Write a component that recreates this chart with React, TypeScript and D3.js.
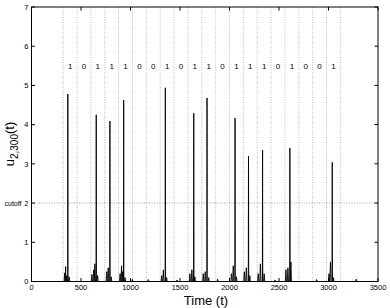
import React from "react";
import * as d3 from "d3";

// bit sequence written above the trace, one per time slot
const bits = [1, 0, 1, 1, 1, 0, 0, 1, 0, 1, 1, 0, 1, 1, 1, 0, 1, 0, 0, 1];
// slot boundaries (dotted verticals)
const slotEdges = [
  320, 460, 600, 740, 880, 1020, 1160, 1300, 1440, 1580, 1720, 1860, 2000,
  2140, 2280, 2420, 2560, 2700, 2840, 2980, 3120,
];
// tall spikes
const peakTimes = [367, 654, 792, 931, 1352, 1639, 1773, 2056, 2192, 2334, 2610, 3038];
const peakHeights = [4.78, 4.25, 4.09, 4.63, 4.94, 4.29, 4.68, 4.17, 3.2, 3.35, 3.4, 3.04];
// small bumps along the baseline
const bumpTimes = [
  335, 345, 352, 380, 610, 628, 640, 668, 760, 775, 805, 895, 910, 920, 945,
  1020, 1180, 1315, 1332, 1365, 1470, 1600, 1620, 1650, 1735, 1755, 1790, 1880,
  2020, 2038, 2070, 2150, 2170, 2205, 2290, 2312, 2350, 2460, 2570, 2590, 2620,
  2880, 3005, 3020, 3050, 3280,
];
const bumpHeights = [
  0.22, 0.38, 0.15, 0.12, 0.18, 0.3, 0.45, 0.15, 0.25, 0.35, 0.12, 0.2, 0.4, 0.25, 0.1,
  0.06, 0.05, 0.15, 0.3, 0.1, 0.04, 0.2, 0.3, 0.12, 0.2, 0.25, 0.1, 0.06,
  0.2, 0.4, 0.12, 0.25, 0.35, 0.15, 0.2, 0.45, 0.2, 0.04, 0.3, 0.35, 0.5,
  0.05, 0.2, 0.5, 0.1, 0.06,
];
const xTicks = [0, 500, 1000, 1500, 2000, 2500, 3000, 3500];
const yTicks = [0, 1, 2, 3, 4, 5, 6, 7];
const cutoff = 2;
const bitLevel = 5.5;

const W = 390;
const H = 308;
const margin = { left: 31.5, right: 12, top: 7, bottom: 26.5 };
const font = "'Liberation Sans', Arial, Helvetica, sans-serif";

export default function App() {
  const x = d3.scaleLinear().domain([0, 3500]).range([margin.left, W - margin.right]);
  const y = d3.scaleLinear().domain([0, 7]).range([H - margin.bottom, margin.top]);

  // assemble trace points
  const pts: [number, number][] = [[0, 0]];
  peakTimes.forEach((t, i) => {
    pts.push([t - 2, 0], [t, peakHeights[i]], [t + 2, 0]);
  });
  bumpTimes.forEach((t, i) => {
    pts.push([t - 6, 0], [t, bumpHeights[i]], [t + 6, 0]);
  });
  pts.push([3500, 0]);
  pts.sort((a, b) => a[0] - b[0]);

  const line = d3
    .line<[number, number]>()
    .x((d) => x(d[0]))
    .y((d) => y(d[1]));

  const x0 = x(0);
  const x1 = x(3500);
  const y0 = y(0);
  const y1 = y(7);

  return (
    <svg
      width={W}
      height={H}
      style={{ position: "absolute", left: 0, top: 0, background: "#fff" }}
    >
      {/* slot dividers */}
      {slotEdges.map((t) => (
        <line
          key={t}
          x1={x(t)}
          x2={x(t)}
          y1={y1}
          y2={y0}
          stroke="#a8a8a8"
          strokeWidth={0.8}
          strokeDasharray="1,1.5"
        />
      ))}
      {/* cutoff line */}
      <line
        x1={x0}
        x2={x1}
        y1={y(cutoff)}
        y2={y(cutoff)}
        stroke="#8a8a8a"
        strokeWidth={0.8}
        strokeDasharray="1,1.5"
      />
      <text
        x={21.5}
        y={y(cutoff) + 2.5}
        fontSize={7}
        fontFamily={font}
        textAnchor="end"
        fill="#000"
      >
        cutoff
      </text>

      {/* bits */}
      {bits.map((b, i) => (
        <text
          key={i}
          x={x((slotEdges[i] + slotEdges[i + 1]) / 2)}
          y={y(bitLevel) + 3}
          fontSize={8}
          fontFamily={font}
          textAnchor="middle"
        >
          {b}
        </text>
      ))}

      {/* trace */}
      <path d={line(pts) || ""} fill="none" stroke="#000" strokeWidth={0.9} />

      {/* box */}
      <rect x={x0} y={y1} width={x1 - x0} height={y0 - y1} fill="none" stroke="#000" strokeWidth={1} />

      {/* x ticks */}
      {xTicks.map((t) => (
        <g key={t}>
          <line x1={x(t)} x2={x(t)} y1={y0} y2={y0 - 3.5} stroke="#000" />
          <line x1={x(t)} x2={x(t)} y1={y1} y2={y1 + 3.5} stroke="#000" />
          <text
            x={x(t)}
            y={y0 + 8.5}
            fontSize={7.5}
            fontFamily={font}
            textAnchor="middle"
          >
            {t}
          </text>
        </g>
      ))}
      {/* y ticks */}
      {yTicks.map((v) => (
        <g key={v}>
          <line x1={x0} x2={x0 + 3.5} y1={y(v)} y2={y(v)} stroke="#000" />
          <line x1={x1} x2={x1 - 3.5} y1={y(v)} y2={y(v)} stroke="#000" />
          <text
            x={x0 - 3}
            y={y(v) + 2.7}
            fontSize={7.5}
            fontFamily={font}
            textAnchor="end"
          >
            {v}
          </text>
        </g>
      ))}

      {/* axis labels */}
      <text
        x={206}
        y={305}
        fontSize={13}
        fontFamily={font}
        textAnchor="middle"
      >
        Time (t)
      </text>
      <text
        transform="translate(13.5,144) rotate(-90)"
        fontSize={13}
        fontFamily={font}
        textAnchor="middle"
      >
        u
        <tspan fontSize={10} dy={4}>
          2,300
        </tspan>
        <tspan dy={-4}>(t)</tspan>
      </text>
    </svg>
  );
}
